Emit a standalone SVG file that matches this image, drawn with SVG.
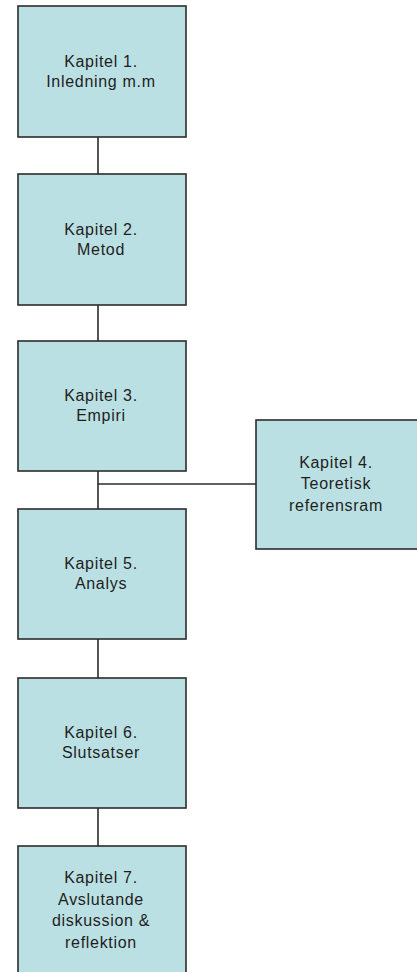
<svg xmlns="http://www.w3.org/2000/svg" width="417" height="972" viewBox="0 0 417 972">
  <style>
    .box { fill: #bbe0e3; stroke: #2b2b2b; stroke-width: 1.6; }
    .lbl { font-family: "Liberation Sans", Arial, sans-serif; font-size: 16px; fill: #1e1e1e; text-anchor: middle; letter-spacing: 0.7px; }
    .link { stroke: #2b2b2b; stroke-width: 1.6; fill: none; }
  </style>
  <rect width="417" height="972" fill="#ffffff"/>

  <!-- connectors -->
  <g id="connectors">
    <line class="link" x1="98" y1="137" x2="98" y2="174"/>
    <line class="link" x1="98" y1="305" x2="98" y2="341"/>
    <line class="link" x1="98" y1="471" x2="98" y2="509"/>
    <line class="link" x1="98" y1="484" x2="256" y2="484"/>
    <line class="link" x1="98" y1="639" x2="98" y2="678"/>
    <line class="link" x1="98" y1="808" x2="98" y2="846"/>
  </g>

  <g id="kapitel1">
    <rect class="box" x="18" y="6" width="168" height="131"/>
    <text class="lbl" x="101" y="67">Kapitel 1.</text>
    <text class="lbl" x="101" y="87">Inledning m.m</text>
  </g>

  <g id="kapitel2">
    <rect class="box" x="18" y="174" width="168" height="131"/>
    <text class="lbl" x="101" y="235">Kapitel 2.</text>
    <text class="lbl" x="101" y="255">Metod</text>
  </g>

  <g id="kapitel3">
    <rect class="box" x="18" y="341" width="168" height="130"/>
    <text class="lbl" x="101" y="401">Kapitel 3.</text>
    <text class="lbl" x="101" y="421">Empiri</text>
  </g>

  <g id="kapitel4">
    <rect class="box" x="256" y="420" width="170" height="129"/>
    <text class="lbl" x="336" y="468">Kapitel 4.</text>
    <text class="lbl" x="336" y="489">Teoretisk</text>
    <text class="lbl" x="336" y="511">referensram</text>
  </g>

  <g id="kapitel5">
    <rect class="box" x="18" y="509" width="168" height="130"/>
    <text class="lbl" x="101" y="569">Kapitel 5.</text>
    <text class="lbl" x="101" y="589">Analys</text>
  </g>

  <g id="kapitel6">
    <rect class="box" x="18" y="678" width="168" height="130"/>
    <text class="lbl" x="101" y="738">Kapitel 6.</text>
    <text class="lbl" x="101" y="758">Slutsatser</text>
  </g>

  <g id="kapitel7">
    <rect class="box" x="18" y="846" width="168" height="131"/>
    <text class="lbl" x="101" y="883">Kapitel 7.</text>
    <text class="lbl" x="101" y="905">Avslutande</text>
    <text class="lbl" x="101" y="926">diskussion &amp;</text>
    <text class="lbl" x="101" y="948">reflektion</text>
  </g>
</svg>
